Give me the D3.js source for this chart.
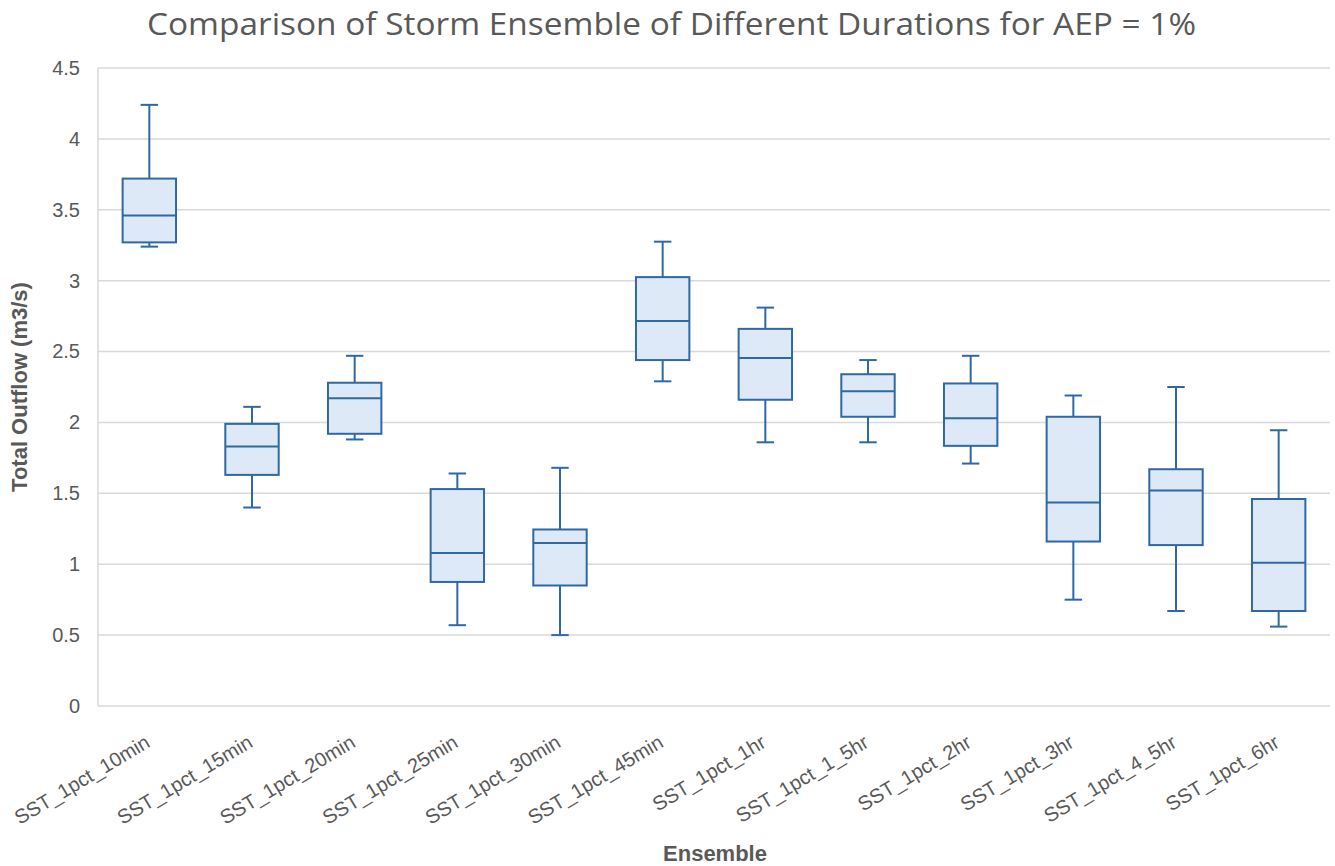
<!DOCTYPE html>
<html>
<head>
<meta charset="utf-8">
<script src="https://cdn.jsdelivr.net/npm/d3@7"></script>
<style>
  html, body { margin: 0; padding: 0; background: #fff; }
  svg { display: block; }
</style>
</head>
<body>
<svg id="chart" width="1335" height="866"></svg>
<script>
const categories = ["SST_1pct_10min","SST_1pct_15min","SST_1pct_20min","SST_1pct_25min","SST_1pct_30min","SST_1pct_45min","SST_1pct_1hr","SST_1pct_1_5hr","SST_1pct_2hr","SST_1pct_3hr","SST_1pct_4_5hr","SST_1pct_6hr"];
const minValues    = [3.24, 1.40, 1.88, 0.57, 0.50, 2.29, 1.86, 1.86, 1.71, 0.75, 0.67, 0.56];
const q1Values     = [3.27, 1.63, 1.92, 0.875, 0.85, 2.44, 2.16, 2.04, 1.835, 1.16, 1.135, 0.67];
const medianValues = [3.46, 1.83, 2.17, 1.08, 1.15, 2.715, 2.455, 2.22, 2.03, 1.435, 1.52, 1.01];
const q3Values     = [3.72, 1.99, 2.28, 1.53, 1.245, 3.025, 2.66, 2.34, 2.275, 2.04, 1.67, 1.46];
const maxValues    = [4.24, 2.11, 2.47, 1.64, 1.68, 3.275, 2.81, 2.44, 2.47, 2.19, 2.25, 1.945];
const yTicks = [0, 0.5, 1, 1.5, 2, 2.5, 3, 3.5, 4, 4.5];

const titleText = "Comparison of Storm Ensemble of Different Durations for AEP = 1%";
const xTitle = "Ensemble";
const yTitle = "Total Outflow (m3/s)";

const svg = d3.select("#chart");
const margin = {left: 98, right: 5, top: 68, bottom: 160};
const W = 1335, H = 866;
const plotL = margin.left, plotR = W - margin.right, plotT = margin.top, plotB = H - margin.bottom;

const x = d3.scaleBand().domain(categories).range([plotL, plotR]).padding(0);
const y = d3.scaleLinear().domain([0, 4.5]).range([plotB, plotT]);

const grey = "#595959";
const gridCol = "#d9d9d9";
const stroke = "#2e68a5";
const fill = "#dde9f6";
const font = "'Liberation Sans', Arial, sans-serif";

// gridlines
svg.append("g").selectAll("line").data(yTicks).join("line")
  .attr("x1", plotL).attr("x2", plotR)
  .attr("y1", d => y(d)).attr("y2", d => y(d))
  .attr("stroke", gridCol).attr("stroke-width", 1.5);

// left axis line
svg.append("line").attr("x1", plotL).attr("x2", plotL).attr("y1", plotT).attr("y2", plotB)
  .attr("stroke", gridCol).attr("stroke-width", 1.5);

// y axis labels
const yAxis = d3.axisLeft(y).tickValues(yTicks).tickSize(0).tickPadding(18).tickFormat(d => String(d));
const gy = svg.append("g").attr("transform", `translate(${plotL},0)`).call(yAxis);
gy.select(".domain").remove();
gy.selectAll("text").attr("font-family", font).attr("font-size", 20).attr("fill", grey);

// x axis labels
const xAxis = d3.axisBottom(x).tickSize(0).tickPadding(0);
const gx = svg.append("g").attr("transform", `translate(0,${plotB})`).call(xAxis);
gx.select(".domain").remove();
gx.selectAll("text")
  .attr("font-family", font).attr("font-size", 20).attr("fill", grey)
  .attr("text-anchor", "end")
  .attr("dy", null).attr("y", null)
  .attr("transform", "translate(2,40) rotate(-31)");

// boxes
const data = categories.map((c, i) => ({c, min: minValues[i], q1: q1Values[i], med: medianValues[i], q3: q3Values[i], max: maxValues[i]}));
const bw = x.bandwidth() * 0.52;
const cw = x.bandwidth() * 0.17;
const g = svg.append("g").selectAll("g").data(data).join("g")
  .attr("transform", d => `translate(${x(d.c) + x.bandwidth() / 2},0)`);

g.append("line").attr("x1", 0).attr("x2", 0).attr("y1", d => y(d.max)).attr("y2", d => y(d.q3))
  .attr("stroke", stroke).attr("stroke-width", 2);
g.append("line").attr("x1", 0).attr("x2", 0).attr("y1", d => y(d.q1)).attr("y2", d => y(d.min))
  .attr("stroke", stroke).attr("stroke-width", 2);
g.append("line").attr("x1", -cw/2).attr("x2", cw/2).attr("y1", d => y(d.max)).attr("y2", d => y(d.max))
  .attr("stroke", stroke).attr("stroke-width", 2);
g.append("line").attr("x1", -cw/2).attr("x2", cw/2).attr("y1", d => y(d.min)).attr("y2", d => y(d.min))
  .attr("stroke", stroke).attr("stroke-width", 2);
g.append("rect").attr("x", -bw/2).attr("width", bw)
  .attr("y", d => y(d.q3)).attr("height", d => y(d.q1) - y(d.q3))
  .attr("fill", fill).attr("stroke", stroke).attr("stroke-width", 2);
g.append("line").attr("x1", -bw/2).attr("x2", bw/2).attr("y1", d => y(d.med)).attr("y2", d => y(d.med))
  .attr("stroke", stroke).attr("stroke-width", 2);

// titles
svg.append("text").attr("x", 671.5).attr("y", 35).attr("text-anchor", "middle")
  .attr("font-family", "'Open Sans', sans-serif").attr("font-size", 31).attr("fill", grey)
  .attr("textLength", 1049).attr("lengthAdjust", "spacingAndGlyphs")
  .text(titleText);

svg.append("text").attr("x", 715).attr("y", 861).attr("text-anchor", "middle")
  .attr("font-family", font).attr("font-size", 22).attr("font-weight", "bold").attr("fill", grey)
  .text(xTitle);

svg.append("text").attr("transform", `translate(27,${(plotT + plotB) / 2}) rotate(-90)`)
  .attr("text-anchor", "middle")
  .attr("font-family", font).attr("font-size", 22).attr("font-weight", "bold").attr("fill", grey)
  .text(yTitle);
</script>
</body>
</html>
